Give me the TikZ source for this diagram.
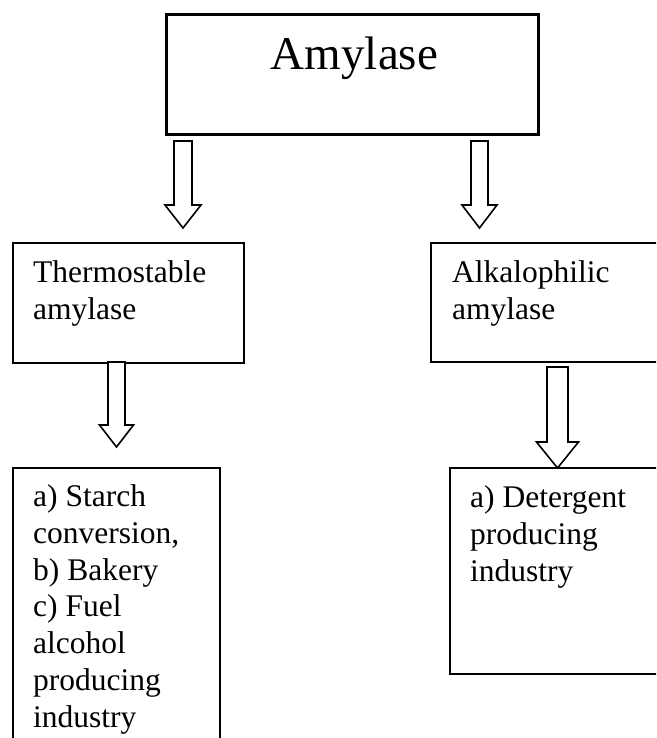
\documentclass[tikz,border=0pt]{standalone}
\usepackage{fontspec}
\setmainfont{Liberation Serif}
\newcommand{\blockarrow}[6]{% x center, y top, y head, y tip, half shaft, half head
  \draw[blockarr] ({#1-#5},#2) -- ({#1+#5},#2) -- ({#1+#5},#3) -- ({#1+#6},#3)
    -- (#1,#4) -- ({#1-#6},#3) -- ({#1-#5},#3) -- cycle;}
\begin{document}
\begin{tikzpicture}[x=1pt,y=-1pt,
  box/.style={draw, line width=2pt, rectangle, inner sep=0pt, anchor=north west},
  txt/.style={anchor=base west, align=left, inner sep=0pt, font=\fontsize{31.5}{36.7}\selectfont},
  blockarr/.style={draw, line width=1.6pt, line join=miter, fill=white}]
\useasboundingbox (0,0) rectangle (656,738);
\clip (0,0) rectangle (656,738);
% boxes
\node[box, line width=2.6pt, minimum width=372pt, minimum height=120pt] (amy) at (165,13) {};
\node[box, minimum width=231pt, minimum height=120pt] (thermo) at (12,242) {};
\node[box, minimum width=270pt, minimum height=119pt] (alka) at (430,242) {};
\node[box, minimum width=207pt, minimum height=330pt] (uses1) at (12,467) {};
\node[box, minimum width=250pt, minimum height=206pt] (uses2) at (449,467) {};
% texts (base anchor = baseline of the last line)
\node[anchor=base, inner sep=0pt, font=\fontsize{47}{54}\selectfont] (tamy) at (354.5,70) {Amylase};
\node[txt] (tthermo) at (33,319) {Thermostable\\amylase};
\node[txt] (talka) at (452,319) {Alkalophilic\\amylase};
\node[txt] (tuses1) at (33,727) {a) Starch\\conversion,\\b) Bakery\\c) Fuel\\alcohol\\producing\\industry};
\node[txt] (tuses2) at (470,581) {a) Detergent\\producing\\industry};
% block arrows
\blockarrow{183}{141}{205}{228}{9}{18}
\blockarrow{479.5}{141}{205}{228}{8.5}{17.5}
\blockarrow{116.5}{362}{425}{447}{8.5}{17}
\blockarrow{557.5}{367}{442}{468}{10.5}{21}
\end{tikzpicture}
\end{document}
